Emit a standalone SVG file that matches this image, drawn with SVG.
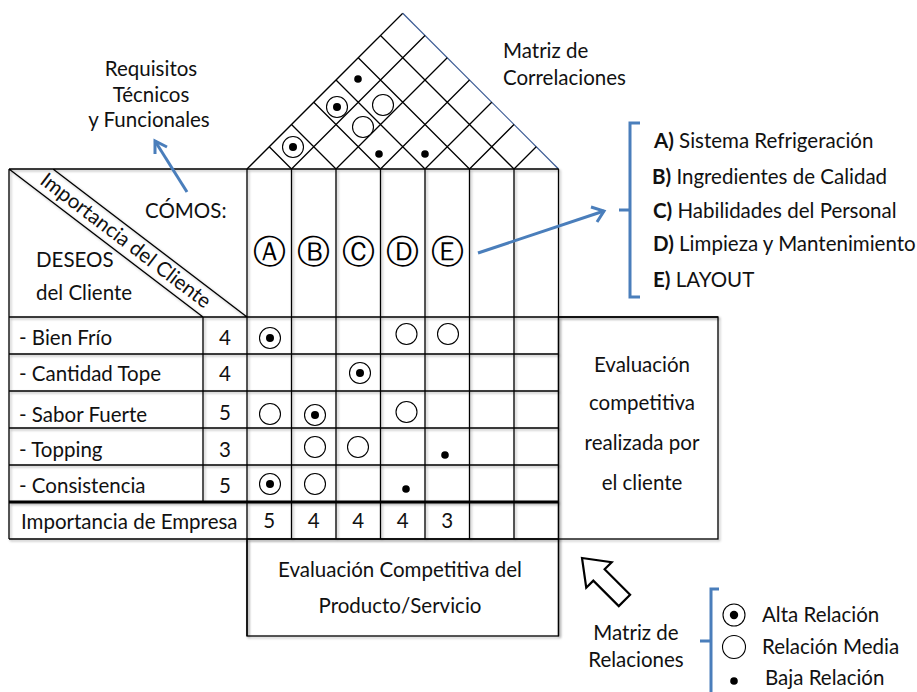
<svg xmlns="http://www.w3.org/2000/svg" width="917" height="692" viewBox="0 0 917 692">
<defs>
<style>
.ln{stroke:#000;stroke-width:1.3;fill:none}
.thk{stroke:#000;stroke-width:3;fill:none}
.t{font-family:Lato,"Liberation Sans",sans-serif;font-size:20.5px;fill:#111}
.tm{text-anchor:middle}
.b{font-weight:bold}
.blue{stroke:#4a7ebb;stroke-width:3;fill:none}
.oc{fill:#fff;stroke:#000;stroke-width:1.1}
.dot{fill:#000}
.let{font-family:"DejaVu Sans",sans-serif;font-size:33px;fill:#000;text-anchor:middle}
</style>
<filter id="sh" x="-5%" y="-5%" width="110%" height="110%">
<feDropShadow dx="1.5" dy="1.5" stdDeviation="0.8" flood-color="#000" flood-opacity="0.3"/>
</filter>
<g id="hi"><circle class="oc" r="10.5"/><circle class="dot" r="4"/></g>
<g id="md"><circle class="oc" r="10.5"/></g>
<g id="lo"><circle class="dot" r="3.8"/></g>
</defs>
<rect width="917" height="692" fill="#fff"/>

<g id="roof">
<path class="ln" d="M247,169 L402.75,13.25"/>
<path d="M402.75,13.25 L558.5,169" stroke="#3a5a94" stroke-width="1.2" fill="none"/>
<path class="ln" d="M291.5,169 L425,35.5 M336,169 L447.25,57.75 M380.5,169 L469.5,80 M425,169 L491.75,102.25 M469.5,169 L514,124.5 M514,169 L536.25,146.75
M291.5,169 L269.25,146.75 M336,169 L291.5,124.5 M380.5,169 L313.75,102.25 M425,169 L336,80 M469.5,169 L358.25,57.75 M514,169 L380.5,35.5"/>
<use href="#hi" x="293" y="147"/>
<use href="#hi" x="337" y="107"/>
<use href="#md" x="383" y="105"/>
<use href="#md" x="363" y="127"/>
<use href="#lo" x="358" y="79"/>
<use href="#lo" x="379" y="154"/>
<use href="#lo" x="425" y="154"/>
</g>

<g id="table" filter="url(#sh)">
<path class="ln" d="M9,169 H558.5 M9,169 V539 M9,317 H718 M9,354 H558.5 M9,391 H558.5 M9,428 H558.5 M9,465 H558.5 M9,539 H558.5
M247,169 V636 M291.5,169 V539 M336,169 V539 M380.5,169 V539 M425,169 V539 M469.5,169 V539 M514,169 V539 M558.5,169 V636
M203,317 V502 M9,169 L203,317 M53,169 L247,317"/>
<path class="thk" d="M9,502 H558.5"/>
</g>

<g id="corner">
<text class="t" x="145" y="218">CÓMOS:</text>
<text class="t" x="36" y="267">DESEOS</text>
<text class="t" x="36" y="300">del Cliente</text>
<text class="t tm" transform="translate(121.5,246) rotate(37.3)">Importancia del Cliente</text>
</g>

<g id="hows">
<text class="let" x="269.25" y="263">Ⓐ</text>
<text class="let" x="313.75" y="263">Ⓑ</text>
<text class="let" x="358.25" y="263">Ⓒ</text>
<text class="let" x="402.75" y="263">Ⓓ</text>
<text class="let" x="447.25" y="263">Ⓔ</text>
</g>

<g id="whats">
<text class="t" x="19" y="345">- Bien Frío</text>
<text class="t" x="19" y="381">- Cantidad Tope</text>
<text class="t" x="19" y="422">- Sabor Fuerte</text>
<text class="t" x="19" y="457">- Topping</text>
<text class="t" x="19" y="493">- Consistencia</text>
<text class="t tm" x="225" y="345">4</text>
<text class="t tm" x="225" y="381">4</text>
<text class="t tm" x="225" y="420">5</text>
<text class="t tm" x="225" y="457">3</text>
<text class="t tm" x="225" y="493">5</text>
<text class="t" x="21" y="529">Importancia de Empresa</text>
<text class="t tm" x="269.25" y="528">5</text>
<text class="t tm" x="313.75" y="528">4</text>
<text class="t tm" x="358.25" y="528">4</text>
<text class="t tm" x="402.75" y="528">4</text>
<text class="t tm" x="447.25" y="528">3</text>
</g>

<g id="relations">
<use href="#hi" x="270" y="338"/>
<use href="#md" x="406.5" y="334"/>
<use href="#md" x="448" y="334"/>
<use href="#hi" x="360" y="373"/>
<use href="#md" x="270" y="414"/>
<use href="#hi" x="315" y="415"/>
<use href="#md" x="406.5" y="412"/>
<use href="#md" x="315" y="447"/>
<use href="#md" x="358" y="447"/>
<use href="#lo" x="445" y="455"/>
<use href="#hi" x="270" y="484"/>
<use href="#md" x="315" y="484"/>
<use href="#lo" x="406" y="489"/>
</g>

<g id="eval-cliente">
<rect class="ln" x="558.5" y="317" width="159.5" height="222" filter="url(#sh)"/>
<text class="t tm" x="642" y="372">Evaluación</text>
<text class="t tm" x="642" y="410">competitiva</text>
<text class="t tm" x="642" y="450">realizada por</text>
<text class="t tm" x="642" y="490">el cliente</text>
</g>

<g id="eval-producto">
<rect class="ln" x="247" y="539" width="311.5" height="97" filter="url(#sh)"/>
<text class="t tm" x="400" y="577">Evaluación Competitiva del</text>
<text class="t tm" x="400" y="613">Producto/Servicio</text>
</g>

<g id="requisitos">
<text class="t tm" x="151" y="76">Requisitos</text>
<text class="t tm" x="151" y="102">Técnicos</text>
<text class="t tm" x="149" y="127">y Funcionales</text>
</g>

<g id="correlaciones-label">
<text class="t" x="503" y="58">Matriz de</text>
<text class="t" x="503" y="85">Correlaciones</text>
</g>

<g id="hows-list">
<path class="blue" d="M640,123 H630 V297 H640 M630,210 H619"/>
<text class="t" x="654" y="148"><tspan class="b">A)</tspan> Sistema Refrigeración</text>
<text class="t" x="652" y="184"><tspan class="b">B)</tspan> Ingredientes de Calidad</text>
<text class="t" x="653" y="218"><tspan class="b">C)</tspan> Habilidades del Personal</text>
<text class="t" x="653" y="251"><tspan class="b">D)</tspan> Limpieza y Mantenimiento</text>
<text class="t" x="653" y="287"><tspan class="b">E)</tspan> LAYOUT</text>
</g>

<g id="legend">
<path class="blue" d="M719,589 H711 V692 M711,641 H700"/>
<text class="t tm" x="636" y="640">Matriz de</text>
<text class="t tm" x="636" y="667">Relaciones</text>
<g transform="translate(734,615)"><circle class="oc" r="11"/><circle class="dot" r="4.2"/></g>
<circle class="oc" cx="734" cy="647" r="11.5"/>
<circle class="dot" cx="734" cy="681" r="3.8"/>
<text class="t" x="762" y="622">Alta Relación</text>
<text class="t" x="762" y="654">Relación Media</text>
<text class="t" x="765" y="685">Baja Relación</text>
</g>

<g id="connectors">
<path class="blue" d="M187,192 L155,141"/>
<path class="blue" d="M155,154 L155,141 L167,147"/>
<path class="blue" d="M478,253 L604,211"/>
<path class="blue" d="M591,207 L604,211 L597,222"/>
<path d="M0,0 L24,-18 L24,-8 L60,-8 L60,8 L24,8 L24,18 Z" transform="translate(582,558) rotate(45)" fill="#fff" stroke="#000" stroke-width="2.2" stroke-linejoin="miter"/>
</g>
</svg>
